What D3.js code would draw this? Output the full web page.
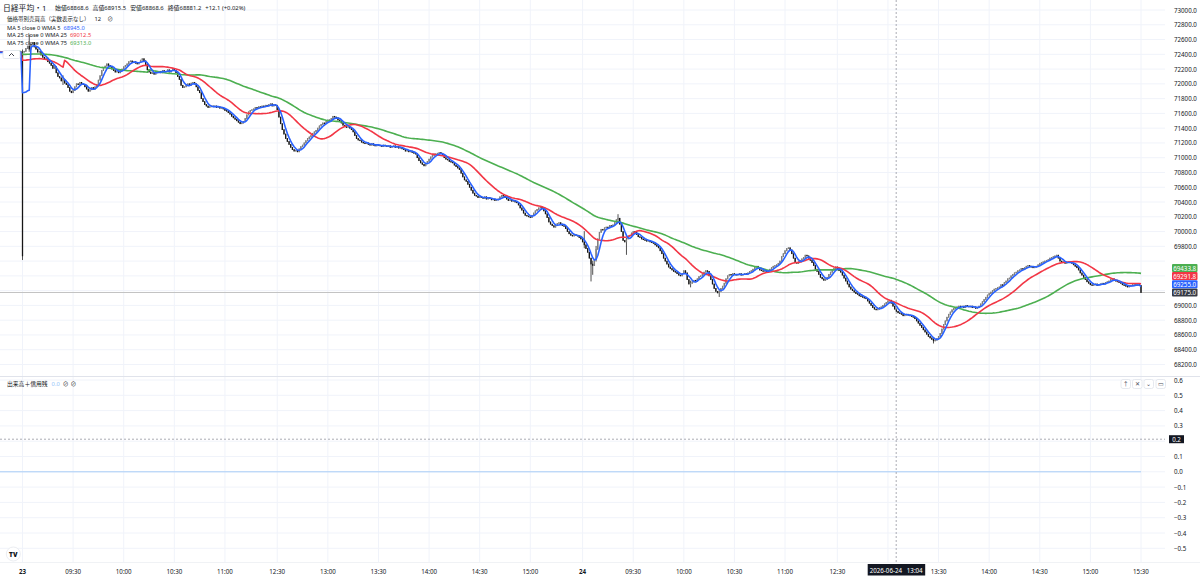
<!DOCTYPE html>
<html><head><meta charset="utf-8">
<script src="https://cdn.jsdelivr.net/npm/d3@7"></script>
<style>
body{margin:0;background:#fff}
svg{display:block}
text{font-family:"Noto Sans","Noto Sans CJK JP",sans-serif;fill:#131722}
</style>
</head><body>
<svg id="c" width="1200" height="580"></svg>
<script>
// ---------------- DATA ----------------
// previous day's last 1-minute closes (moving-average warm-up / left edge)
const prevDayCloses = [
72450,72460,72440,72430,72450,72470,72460,72440,72450,72430,
72420,72440,72450,72460,72440,72430,72420,72440,72450,72440,
72460,72450,72430,72440,72460,72470,72450,72440,72430,72420,
72430,72450,72440,72460,72450,72430,72440,72420,72430,72440,
72450,72440,72430,72420,72440,72450,72430,72440,72420,72430,
72440,72450,72430,72420,72410,72430,72440,72420,72430,72440,
72430,72420,72440,72430,72420,72410,72430,72440,72430,72420,
72440,72430,72420,72430,72440,72420,72430,72440,72430,72430];

// 23rd, morning session 09:00-11:30 (1-minute closes)
const day1AM = [
69670,72440,72480,72510,72470,72540,72560,
72500,72470,72430,72440,72390,72360,
72330,72350,72300,72280,72250,72210,72230,
72150,72100,72080,72040,72060,72010,71990,
71950,71900,71880,71910,
71960,72000,71990,72020,72000,71990,
71960,71930,71900,71920,71950,71930,71960,71990,
72050,72110,72180,72220,72240,72270,72250,72230,
72200,72180,72160,72170,72150,72180,
72200,72230,72250,72270,72300,72310,72290,72300,
72280,72270,72290,72320,72340,72310,72260,
72190,72160,72140,72150,72130,72170,72160,
72170,72150,72180,72160,72170,72190,72160,72180,72200,72180,
72150,72100,72060,71980,71950,71960,
71990,72000,71980,72010,72020,72000,71960,71910,71880,
71800,71760,71720,71700,71680,71690,71700,
71690,71700,71680,71690,71670,71680,71660,71640,
71630,71610,71590,71560,71540,71520,71500,71480,71460,71470,71490,
71530,71580,71620,71640,71650,71660,71680,71670,71690,
71680,71700,71690,71710,71700,71720,71730,71700,71720,71710];

// 23rd, afternoon session 12:30-15:30
const day1PM = [
71650,71550,71460,71380,71320,71260,71220,71180,
71140,71110,71090,71100,71080,71120,71150,71170,
71200,71230,71260,71280,71300,71330,71350,71370,71400,
71430,71450,71470,71460,71490,71510,71500,71530,71560,71550,
71540,71510,71500,71470,71440,71430,71410,71420,71400,71380,71350,
71300,71260,71240,71230,71210,71200,71190,71200,
71180,71170,71190,71170,71160,71180,71170,71160,71150,71170,71160,71150,
71160,71140,71150,71160,71140,71150,71130,71140,
71120,71110,71090,71100,71080,71090,71070,71060,71050,71000,
70960,70930,70910,70890,70920,70950,70980,
71010,71030,71050,71040,71060,71070,71060,
71030,71000,70980,70970,70950,70940,70930,70900,
70880,70860,70840,70790,70740,70700,70680,70640,
70600,70560,70520,70490,70480,70460,70470,70460,
70450,70470,70440,70460,70450,70430,70440,70420,70430,70440,
70470,70490,70480,70460,70440,70420,70430,70410,
70420,70400,70390,70360,70320,70290,70250,70220,70210,
70200,70190,70220,70250,70280,70300,70320,
70330,70310,70280,70240,70190,70130,70100,
70080,70060,70080,70110,70120,70100,70080,70070,
70040,70000,69970,69950,69940,69960,69950,69940,69920,69900];

// 24th, morning session 09:00-11:30
const day2AM = [
69860,69820,69770,69720,69640,69560,69540,69620,69760,69900,69990,70030,
70020,70050,70060,70050,70080,70070,70090,70120,70160,70180,
70100,70000,69880,69860,69900,69940,69950,
69980,70000,69990,69960,69930,69920,69900,
69890,69880,69870,69880,69860,69850,69840,69820,69800,69780,
69740,69700,69640,69600,69560,69520,69500,69480,69460,69450,
69430,69410,69400,69430,69470,69440,69350,69290,69300,
69320,69340,69330,69360,69390,69400,69420,69450,69470,69460,69400,69350,
69290,69230,69190,69170,69190,69230,69260,
69300,69360,69400,69420,69410,69430,69420,69410,69420,69430,
69410,69420,69430,69420,69440,69460,69470,69490,69520,69530,
69510,69480,69470,69460,69470,69450,69470,69490,69510,69530,
69540,69550,69570,69600,69660,69700,69740,
69770,69780,69750,69700,69640,69580,69570,
69590,69610,69630,69650,69680,69670,69640,69610,69580,
69540,69490,69460,69420,69380,69360,69340,69350,69380,
69420,69450,69480,69500,69520];

// 24th, afternoon session 12:30-15:30
const day2PM = [
69500,69470,69450,
69410,69370,69330,69290,69250,69220,69200,69180,69160,
69150,69130,69120,69110,69100,69090,69060,69030,69000,
68970,68950,68940,68950,68970,68980,69000,69020,69040,
69060,69070,69030,68990,68950,68920,68900,
68890,68880,68860,68870,68880,68870,68860,68850,68840,68820,
68790,68760,68730,68700,68670,68640,68610,68580,68560,68540,68520,
68530,68550,68580,68620,68680,68740,68790,
68840,68880,68910,68940,68960,68970,68980,68990,
68980,68990,68970,69000,68990,68980,68990,68970,68980,68960,68970,68990,
69020,69050,69080,69110,69140,69160,69180,69200,69220,69230,
69240,69250,69280,69270,69310,69330,69360,69370,69400,69420,69440,69450,
69470,69480,69500,69490,69510,69530,69540,69530,69520,69510,69520,69530,
69550,69570,69580,69590,69600,69610,69620,69640,69650,69660,69670,69680,
69640,69600,69580,69590,69570,69580,69590,69580,69570,
69550,69530,69510,69480,69440,69410,69380,69350,69320,69300,69280,69270,
69280,69290,69270,69280,69290,69300,69290,69310,69320,69330,69350,
69360,69340,69330,69320,69310,69300,69280,69270,69260,
69250,69260,69270,69280,69280,69270,69280,69270,69175];

const sessionStartIdx = [0, 151, 332, 483];
// bars with visible long wicks: [bar index, high, low]
const wickExtremes = [[0,72460,69620],[4,72660,72440],[24,72110,71990],[333,70000,69780],[337,69620,69330],[338,69600,69420],
  [340,69800,69600],[353,70230,70120],[358,69910,69690],[396,69330,69250],[413,69200,69120],[540,68560,68490]];
const openOverrides = [[1,72430]];

const timeTickIdx    = [0,30,60,90,120,151,181,211,241,271,301,332,362,392,422,452,483,513,543,573,603,633,663];
const timeTickLabels = ["23","09:30","10:00","10:30","11:00","12:30","13:00","13:30","14:00","14:30","15:00",
                        "24","09:30","10:00","10:30","11:00","12:30","13:00","13:30","14:00","14:30","15:00","15:30"];
const priceTicks = [73000,72800,72600,72400,72200,72000,71800,71600,71400,71200,71000,70800,70600,70400,70200,70000,69800,69600,69400,69200,69000,68800,68600,68400,68200];
const lowerTicks = [0.6,0.5,0.4,0.3,0.2,0.1,0.0,-0.1,-0.2,-0.3,-0.4,-0.5];
const maPeriods = [5, 25, 75];
const maColors  = ["#2962ff", "#f23645", "#4caf50"];
const maNames = ["MA 5 close 0 WMA 5","MA 25 close 0 WMA 25","MA 75 close 0 WMA 75"];
const maLegendValues = ["68945.0", "69012.5", "69313.0"];
const ohlcLegend = [["始値","68868.6"],["高値","68915.5"],["安値","68868.6"],["終値","68881.2"]];
const changeText = "+12.1 (+0.02%)";
const crosshairIdx = 517, crosshairLowerValue = 0.213;
const crosshairDateLabel = "2026-06-24   13:04";

// ---------------- BUILD ----------------
const svg = d3.select("#c");
const W = 1200, plotR = 1165, mainBot = 376, lowBot = 562;
svg.append("rect").attr("width",W).attr("height",580).attr("fill","#fff");

const x = d3.scaleLinear().domain([0,663]).range([22.5,1141]);
const y = d3.scaleLinear().domain([68200,73000]).range([364.5,10]);
const yl = d3.scaleLinear().domain([-0.5,0.6]).range([548.3,380]);

const sessions = [day1AM, day1PM, day2AM, day2PM];
const bars = [];
prevDayCloses.forEach((c,j)=>bars.push({idx: j - prevDayCloses.length, c}));
sessions.forEach((s,k)=>s.forEach((c,j)=>bars.push({idx: sessionStartIdx[k]+j, c})));
const closesAll = bars.map(b=>b.c);
bars.forEach((b,i)=>{ b.o = i>0 ? bars[i-1].c : b.c; });
const byIdx = new Map(bars.map(b=>[b.idx,b]));
openOverrides.forEach(([i,o])=>{ byIdx.get(i).o = o; });
bars.forEach(b=>{ b.h = Math.max(b.o,b.c); b.l = Math.min(b.o,b.c); });
wickExtremes.forEach(([i,h,l])=>{ const b=byIdx.get(i); b.h=Math.max(b.h,h); b.l=Math.min(b.l,l); });

// moving average of closes (simple mean over the period)
function movingAverage(arr,n){
  const out = new Array(arr.length).fill(null);
  for(let i=n-1;i<arr.length;i++){ out[i] = d3.mean(arr.slice(i-n+1,i+1)); }
  return out;
}
const mas = maPeriods.map(n=>movingAverage(closesAll,n));

const defs = svg.append("defs");
defs.append("clipPath").attr("id","mainClip").append("rect").attr("x",0).attr("y",0).attr("width",plotR).attr("height",mainBot);

// grid
const grid = svg.append("g");
timeTickIdx.forEach(i=>{
  grid.append("line").attr("x1",x(i)).attr("x2",x(i)).attr("y1",0).attr("y2",lowBot).attr("stroke","#f0f3fa");
});
priceTicks.forEach(v=>{
  grid.append("line").attr("x1",0).attr("x2",plotR).attr("y1",y(v)).attr("y2",y(v)).attr("stroke","#f0f3fa");
});
lowerTicks.forEach(v=>{
  grid.append("line").attr("x1",0).attr("x2",plotR).attr("y1",yl(v)).attr("y2",yl(v)).attr("stroke","#f0f3fa");
});
svg.append("line").attr("x1",0).attr("x2",W).attr("y1",376.5).attr("y2",376.5).attr("stroke","#e0e3eb");
svg.append("line").attr("x1",0).attr("x2",W).attr("y1",562.5).attr("y2",562.5).attr("stroke","#f0f2f5");

const mainG = svg.append("g").attr("clip-path","url(#mainClip)");
const lastBar = bars[bars.length-1];
mainG.append("line").attr("x1",0).attr("x2",plotR).attr("y1",y(lastBar.c)).attr("y2",y(lastBar.c)).attr("stroke","#c3c3c3").attr("stroke-width",1);

// candles
const vis = bars.filter(b=>b.idx>=-14);
mainG.append("g").selectAll("line").data(vis).join("line")
  .attr("x1",d=>x(d.idx)).attr("x2",d=>x(d.idx))
  .attr("y1",d=>y(d.h)-0.4).attr("y2",d=>y(d.l)+0.4)
  .attr("stroke","#262626").attr("stroke-width",0.8);
mainG.append("g").selectAll("rect").data(vis).join("rect")
  .attr("x",d=>x(d.idx)-0.65).attr("width",1.3)
  .attr("y",d=>y(Math.max(d.o,d.c))-0.3)
  .attr("height",d=>Math.max(1.2, y(Math.min(d.o,d.c))-y(Math.max(d.o,d.c))+0.6))
  .attr("fill",d=>d.c>=d.o?"#808080":"#161616");

// MA lines
[2,1,0].forEach(k=>{
  const pts = bars.map((b,i)=>({idx:b.idx, v:mas[k][i]})).filter(p=>p.idx>=-14 && p.v!=null);
  mainG.append("path").datum(pts)
    .attr("d", d3.line().x(p=>x(p.idx)).y(p=>y(p.v)))
    .attr("fill","none").attr("stroke",maColors[k]).attr("stroke-width",1.6).attr("stroke-linejoin","round");
});

// legend collapse button
svg.append("rect").attr("x",3).attr("y",50.5).attr("width",17).attr("height",8).attr("rx",1.5)
  .attr("fill","#fff").attr("stroke","#e0e3eb").attr("stroke-width",0.8);
svg.append("path").attr("d","M9,56 L11.5,53.5 L14,56").attr("fill","none").attr("stroke","#131722").attr("stroke-width",0.8);

// price axis
const lastVals = [
  {v: mas[2][mas[2].length-1], col: maColors[2]},
  {v: mas[1][mas[1].length-1], col: maColors[1]},
  {v: mas[0][mas[0].length-1], col: maColors[0]},
  {v: lastBar.c, col: "#363a45"}
].sort((a,b)=>a.v-b.v);
let prevY = null;
lastVals.forEach(d=>{ let yy = y(d.v); if(prevY!==null && yy > prevY-8.2) yy = prevY-8.2; d.y = yy; prevY = yy; });
const boxYs = lastVals.map(d=>d.y);
const axisG = svg.append("g");
priceTicks.forEach(v=>{
  const yy = y(v);
  if (boxYs.some(b=>Math.abs(b-yy)<7)) return;
  axisG.append("text").attr("x",1174).attr("y",yy).attr("dominant-baseline","central")
    .attr("font-size",6.2).text(v.toFixed(1));
});
lastVals.forEach(d=>{
  axisG.append("rect").attr("x",1172).attr("y",d.y-4).attr("width",25.5).attr("height",8).attr("rx",1).attr("fill",d.col);
  axisG.append("text").attr("x",1184.7).attr("y",d.y+0.2).attr("text-anchor","middle").attr("dominant-baseline","central")
    .attr("font-size",6.2).style("fill","#fff").text(d.v.toFixed(1));
});
lowerTicks.forEach(v=>{
  const yy = yl(v);
  if (Math.abs(yy - yl(crosshairLowerValue)) < 6) return;
  axisG.append("text").attr("x",1174).attr("y",yy).attr("dominant-baseline","central")
    .attr("font-size",6.2).text(v<0 ? "−"+Math.abs(v).toFixed(1) : v.toFixed(1));
});

// lower pane indicator line
svg.append("line").attr("x1",0).attr("x2",x(663)).attr("y1",yl(0)).attr("y2",yl(0)).attr("stroke","#a9cdf7").attr("stroke-width",1);

// lower pane buttons
const btnIcons = ["↑","✕","⌄","▭"];
[1121,1132.5,1144,1156].forEach((bx,i)=>{
  svg.append("rect").attr("x",bx).attr("y",379.5).attr("width",9.5).attr("height",9).attr("rx",2)
    .attr("fill","#fff").attr("stroke","#e0e3eb").attr("stroke-width",0.8);
  svg.append("text").attr("x",bx+4.75).attr("y",384.3).attr("text-anchor","middle").attr("dominant-baseline","central")
    .attr("font-size",6).style("fill","#4a4e59").text(btnIcons[i]);
});

// crosshair
const cx = x(crosshairIdx)+1.5;
const boxL = cx-28.5, boxR = cx+29;
timeTickIdx.forEach((i,k)=>{
  const tx = x(i);
  if (tx > boxL-8 && tx < boxR+8) return;   // hidden behind crosshair label
  const bold = (timeTickLabels[k]==="23"||timeTickLabels[k]==="24");
  svg.append("text").attr("x",tx).attr("y",571).attr("text-anchor","middle").attr("dominant-baseline","central")
    .attr("font-size",6.2).attr("font-weight",bold?700:400).text(timeTickLabels[k]);
});
svg.append("line").attr("x1",cx).attr("x2",cx).attr("y1",0).attr("y2",lowBot).attr("stroke","#9598a1").attr("stroke-width",0.8).attr("stroke-dasharray","2,2");
svg.append("line").attr("x1",0).attr("x2",plotR).attr("y1",yl(crosshairLowerValue)).attr("y2",yl(crosshairLowerValue)).attr("stroke","#9598a1").attr("stroke-width",0.8).attr("stroke-dasharray","2,2");
svg.append("rect").attr("x",1169).attr("y",yl(crosshairLowerValue)-4).attr("width",15).attr("height",8).attr("fill","#131722");
svg.append("text").attr("x",1176.5).attr("y",yl(crosshairLowerValue)+0.2).attr("text-anchor","middle").attr("dominant-baseline","central")
  .attr("font-size",6.2).style("fill","#fff").text(crosshairLowerValue.toFixed(1));
svg.append("rect").attr("x",boxL).attr("y",564).attr("width",boxR-boxL).attr("height",11.5).attr("fill","#131722");
svg.append("text").attr("x",cx).attr("y",570).attr("text-anchor","middle").attr("dominant-baseline","central")
  .attr("font-size",6.2).style("fill","#fff").attr("xml:space","preserve").text(crosshairDateLabel);

// top legend (sequential placement by measured widths)
const lg = svg.append("g");
function put(g, tx, ty, str, fs, col){
  const t = g.append("text").attr("x",tx).attr("y",ty).attr("dominant-baseline","central").attr("font-size",fs).text(str);
  if (col) t.style("fill",col);
  return tx + t.node().getComputedTextLength();
}
let px = put(lg, 3, 8.3, "日経平均・1", 7.8);
px = 55;
ohlcLegend.forEach(([lab,val])=>{ px = put(lg, px, 8.3, lab+val, 5.9) + 4; });
put(lg, px, 8.3, changeText, 5.9);
px = put(lg, 7, 19.3, "価格帯別売買高（実数表示なし）", 5.5) + 5;
px = put(lg, px, 19.3, "12", 5.8) + 6;
put(lg, px, 19.3, "⊘", 5.8);
[27.7,35.2,42.7].forEach((yy,k)=>{
  const e = put(lg, 7, yy, maNames[k], 5.7);
  put(lg, e+3, yy, maLegendValues[k], 5.7, maColors[k]);
});

// lower pane legend
px = put(svg, 7, 384, "出来高＋信用残", 5.8) + 4;
px = put(svg, px, 384, "0.0", 5.8, "#90bff9") + 3;
px = put(svg, px, 384, "⊘", 5.8) + 2;
put(svg, px, 384, "⊘", 5.8);

// TradingView logo
svg.append("circle").attr("cx",13.3).attr("cy",554).attr("r",7).attr("fill","#fff").attr("stroke","#e6e8ee").attr("stroke-width",0.8);
svg.append("text").attr("x",13.3).attr("y",554.3).attr("text-anchor","middle").attr("dominant-baseline","central")
  .attr("font-size",6.5).attr("font-weight",900).text("TV");
</script>
</body></html>
